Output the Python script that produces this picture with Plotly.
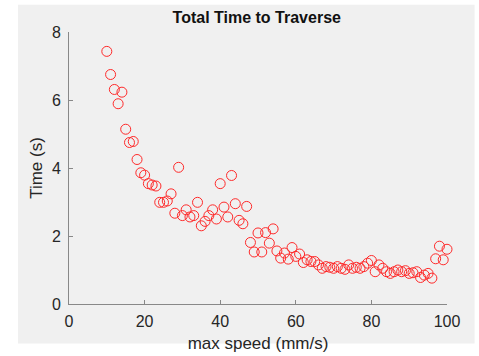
import plotly.graph_objects as go

speed = list(range(10, 101))
time_s = [7.43, 6.75, 6.31, 5.89, 6.23, 5.14, 4.75, 4.78, 4.25, 3.86,
          3.79, 3.54, 3.50, 3.47, 2.99, 2.99, 3.03, 3.24, 2.67, 4.02,
          2.60, 2.77, 2.56, 2.60, 2.99, 2.30, 2.43, 2.60, 2.77, 2.50,
          3.54, 2.85, 2.56, 3.78, 2.95, 2.46, 2.36, 2.87, 1.81, 1.53,
          2.09, 1.53, 2.10, 1.79, 2.21, 1.56, 1.35, 1.50, 1.32, 1.66,
          1.40, 1.47, 1.22, 1.30, 1.25, 1.25, 1.15, 1.05, 1.10, 1.08,
          1.05, 1.10, 1.05, 1.02, 1.15, 1.05, 1.08, 1.05, 1.10, 1.20,
          1.28, 0.95, 1.15, 1.05, 0.95, 0.90, 0.95, 1.00, 0.95, 0.98,
          0.90, 0.92, 0.95, 0.78, 0.85, 0.90, 0.76, 1.33, 1.70, 1.30,
          1.61]
x_ticks = [0, 20, 40, 60, 80, 100]
y_ticks = [0, 2, 4, 6, 8]

font = "Liberation Sans, Arial, sans-serif"

fig = go.Figure()
fig.add_trace(go.Scatter(
    x=speed, y=time_s, mode="markers",
    marker=dict(symbol="circle-open", size=10, color="#ff2a2a",
                line=dict(width=1, color="#ff2a2a")),
    cliponaxis=False, showlegend=False,
))

fig.update_layout(
    width=479, height=356,
    margin=dict(l=69, r=32, t=32, b=52),
    paper_bgcolor="white",
    plot_bgcolor="white",
    font=dict(family=font, size=16, color="#262626"),
    title=dict(text="<b>Total Time to Traverse</b>", x=0.536, xanchor="center",
               y=0.952, yanchor="middle",
               font=dict(family=font, size=16, color="#111111")),
    shapes=[dict(type="rect", xref="paper", yref="paper",
                 x0=-0.135, x1=1.073, y0=-0.145, y1=1.1,
                 fillcolor="#f0f0f0", line=dict(width=0), layer="below")],
    xaxis=dict(range=[0, 100], tickvals=x_ticks, ticks="inside", ticklen=4,
               tickcolor="#888888", showline=True, linecolor="#888888",
               linewidth=1, showgrid=False, zeroline=False, mirror=False,
               ticklabelstandoff=3, automargin=False,
               title=dict(text="max speed (mm/s)", standoff=7,
                          font=dict(family=font, size=17)),
               tickfont=dict(family=font, size=16)),
    yaxis=dict(range=[0, 8], tickvals=y_ticks, ticks="inside", ticklen=4,
               tickcolor="#888888", showline=True, linecolor="#888888",
               linewidth=1, showgrid=False, zeroline=False, mirror=False,
               ticklabelstandoff=4, automargin=False,
               title=dict(text="Time (s)", standoff=4,
                          font=dict(family=font, size=17)),
               tickfont=dict(family=font, size=16)),
)

fig.write_html("out.html")
